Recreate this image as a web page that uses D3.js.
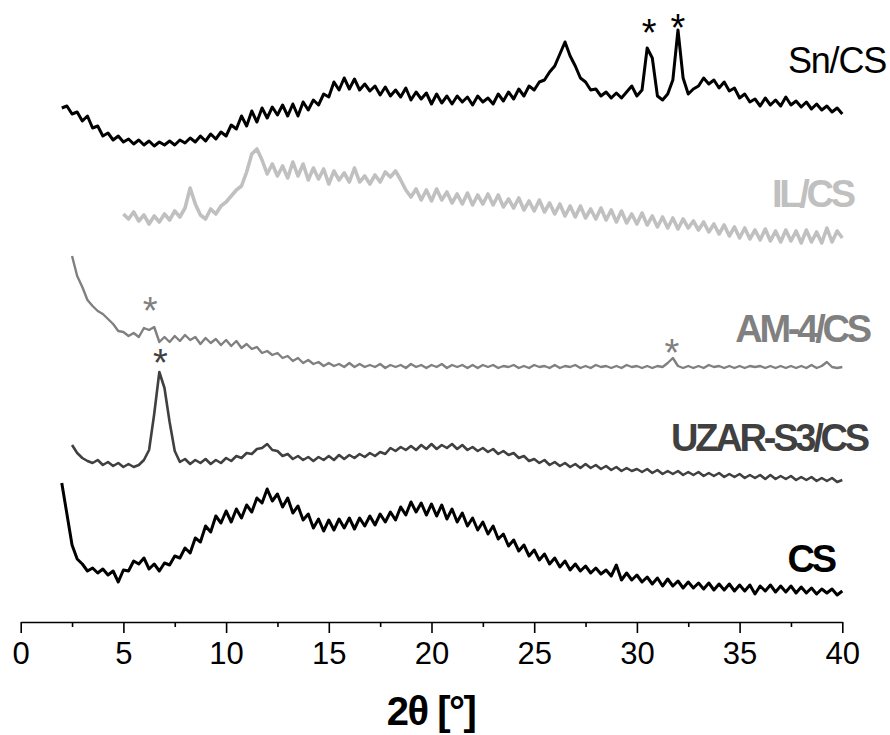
<!DOCTYPE html>
<html>
<head>
<meta charset="utf-8">
<script src="https://cdn.jsdelivr.net/npm/d3@7"></script>
<style>
  body { margin: 0; background: #fff; }
  svg text { font-family: "Liberation Sans", Arial, sans-serif; }
</style>
</head>
<body>
<script>
const step = 0.25;

const csStart = 2.0;
const cs = [
  119, 88, 57, 43, 38, 31, 34, 29, 33, 27, 31, 20, 32, 31, 41, 38,
  44, 33, 38, 31, 39, 37, 46, 44, 54, 49, 64, 60, 76, 70, 86, 79,
  91, 80, 93, 84, 97, 90, 104, 99, 113, 101, 108, 95, 104, 89, 96, 82,
  88, 74, 83, 71, 82, 72, 83, 74, 84, 73, 84, 76, 86, 77, 88, 80,
  90, 82, 95, 87, 100, 90, 99, 87, 98, 86, 97, 83, 93, 80, 89, 76,
  84, 72, 80, 68, 76, 63, 68, 56, 62, 51, 57, 46, 52, 42, 48, 38,
  44, 35, 41, 32, 38, 31, 36, 29, 34, 28, 32, 26, 37, 22, 29, 22,
  27, 20, 25, 18, 24, 16, 23, 16, 21, 14, 20, 14, 19, 13, 19, 12,
  18, 12, 18, 11, 17, 11, 17, 8, 16, 11, 17, 10, 16, 10, 16, 9,
  15, 9, 14, 8, 13, 9, 13, 7, 11
];

const uzarStart = 2.5;
const uzar = [
  47, 39, 34, 31, 29, 32, 27, 30, 26, 29, 25, 28, 25, 27, 32, 42,
  78, 120, 104, 70, 41, 30, 33, 28, 32, 29, 33, 28, 32, 29, 34, 31,
  36, 34, 39, 38, 43, 44, 48, 42, 41, 36, 38, 33, 36, 32, 35, 31,
  35, 32, 36, 32, 37, 33, 37, 34, 38, 35, 39, 36, 40, 38, 44, 41,
  45, 42, 46, 42, 47, 43, 48, 43, 47, 44, 48, 43, 47, 42, 45, 41,
  44, 40, 43, 38, 41, 37, 39, 34, 36, 31, 33, 29, 32, 27, 30, 26,
  29, 25, 28, 24, 28, 24, 27, 23, 26, 22, 25, 21, 24, 21, 23, 20,
  23, 19, 22, 18, 21, 18, 21, 17, 20, 17, 20, 16, 19, 16, 19, 15,
  18, 15, 18, 14, 17, 14, 17, 13, 17, 13, 16, 13, 16, 12, 15, 12,
  15, 11, 14, 11, 14, 10, 12
];

const am4Start = 2.5;
const am4 = [
  126, 106, 95, 82, 76, 71, 68, 63, 58, 51, 50, 46, 49, 45, 54, 52,
  55, 40, 45, 40, 46, 41, 47, 42, 45, 38, 44, 39, 43, 37, 42, 36,
  41, 34, 38, 33, 35, 29, 31, 27, 29, 24, 26, 21, 24, 19, 22, 18,
  20, 16, 19, 16, 18, 15, 19, 15, 18, 15, 17, 15, 18, 14, 17, 15,
  17, 14, 18, 15, 17, 14, 17, 15, 18, 14, 17, 15, 17, 14, 17, 14,
  17, 15, 17, 14, 16, 15, 17, 14, 16, 14, 17, 15, 16, 14, 17, 14,
  16, 15, 17, 14, 16, 14, 17, 15, 16, 14, 16, 14, 17, 15, 16, 14,
  16, 14, 16, 15, 19, 24, 16, 14, 16, 14, 16, 14, 17, 15, 16, 14,
  16, 14, 16, 14, 16, 15, 16, 14, 16, 14, 16, 14, 16, 14, 16, 14,
  17, 14, 16, 20, 15, 14, 15
];

const ilStart = 5.0;
const il = [
  38, 33, 40, 31, 37, 28, 36, 30, 38, 32, 41, 35, 44, 64, 48, 37,
  33, 43, 38, 46, 50, 56, 62, 66, 80, 98, 103, 92, 78, 88, 76, 86,
  74, 90, 76, 88, 72, 84, 73, 83, 68, 81, 72, 79, 70, 84, 70, 76,
  68, 77, 70, 80, 75, 81, 72, 62, 55, 63, 52, 62, 51, 63, 52, 60,
  49, 58, 48, 59, 47, 57, 48, 58, 47, 57, 45, 53, 44, 54, 42, 51,
  41, 52, 40, 49, 38, 48, 36, 46, 35, 46, 34, 43, 33, 44, 32, 42,
  30, 41, 29, 38, 28, 39, 27, 36, 25, 35, 24, 34, 23, 33, 24, 31,
  22, 30, 20, 28, 18, 27, 16, 25, 14, 24, 13, 22, 12, 23, 11, 21,
  10, 22, 11, 21, 9, 22, 10, 20, 9, 24, 10, 21, 14
];

const snStart = 2.0;
const sn = [
  44, 46, 38, 40, 31, 36, 24, 26, 16, 19, 12, 16, 10, 13, 8, 12,
  7, 11, 6, 10, 7, 11, 7, 12, 9, 14, 10, 16, 11, 18, 13, 20,
  16, 27, 23, 36, 26, 41, 30, 44, 34, 45, 37, 47, 36, 48, 36, 50,
  42, 52, 47, 58, 55, 70, 62, 74, 63, 73, 62, 68, 61, 66, 57, 65,
  56, 62, 55, 64, 52, 60, 53, 59, 48, 58, 49, 56, 48, 56, 50, 55,
  47, 56, 50, 54, 48, 58, 51, 60, 53, 63, 56, 66, 62, 70, 72, 80,
  86, 98, 110, 96, 86, 74, 70, 62, 63, 56, 60, 54, 59, 54, 60, 66,
  56, 62, 104, 94, 56, 52, 58, 72, 122, 74, 58, 63, 66, 74, 68, 72,
  64, 70, 61, 64, 54, 58, 50, 53, 46, 54, 47, 52, 46, 55, 47, 51,
  45, 50, 43, 48, 42, 46, 40, 44, 38
];

// vertical stacking offsets (a.u.)
const names = ["CS", "UZAR-S3/CS", "AM-4/CS", "IL/CS", "Sn/CS"];
const offsets = [20, 130, 240, 370, 470];

// reflections marked with an asterisk: sample, 2theta, level (a.u. above its offset)
const markSample = ["Sn/CS", "Sn/CS", "AM-4/CS", "AM-4/CS", "UZAR-S3/CS"];
const markAngle = [30.6, 32.0, 6.3, 31.7, 6.8];
const markLevel = [127, 132, 79, 37, 137];

const xTicks = [0, 5, 10, 15, 20, 25, 30, 35, 40];
const xMinor = [2.5, 7.5, 12.5, 17.5, 22.5, 27.5, 32.5, 37.5];

const width = 890, height = 735;

const svg = d3.select("body").append("svg")
  .attr("width", width)
  .attr("height", height);

const x = d3.scaleLinear().domain([0, 40]).range([20.7, 842.3]);
const y = d3.scaleLinear().domain([0, 620]).range([622, 2]);

const patterns = [
  { name: names[0], start: csStart, values: cs, color: "#000000", lw: 3.0, weight: "bold", labelX: 834, labelY: 572 },
  { name: names[1], start: uzarStart, values: uzar, color: "#404040", lw: 2.6, weight: "bold", labelX: 867, labelY: 451 },
  { name: names[2], start: am4Start, values: am4, color: "#808080", lw: 2.4, weight: "bold", labelX: 869, labelY: 342 },
  { name: names[3], start: ilStart, values: il, color: "#c0c0c0", lw: 3.6, weight: "bold", labelX: 853, labelY: 207 },
  { name: names[4], start: snStart, values: sn, color: "#000000", lw: 3.0, weight: "normal", labelX: 886, labelY: 73 }
];

// draw the upper patterns first so the lower ones sit on top
patterns.slice().reverse().forEach(function(p) {
  const off = offsets[names.indexOf(p.name)];
  const pts = p.values.map((v, i) => [p.start + i * step, v]);
  const line = d3.line()
    .x(d => x(d[0]))
    .y(d => y(off + d[1]));
  svg.append("path")
    .datum(pts)
    .attr("d", line)
    .attr("fill", "none")
    .attr("stroke", p.color)
    .attr("stroke-width", p.lw)
    .attr("stroke-linejoin", "round");

  svg.append("text")
    .attr("x", p.labelX)
    .attr("y", p.labelY)
    .attr("text-anchor", "end")
    .attr("font-size", p.weight === "bold" ? 38 : 36)
    .attr("font-weight", p.weight)
    .attr("letter-spacing", p.weight === "bold" ? -3.2 : -1.2)
    .attr("fill", p.color)
    .text(p.name);
});

// asterisks
markAngle.forEach(function(a, i) {
  const k = names.indexOf(markSample[i]);
  svg.append("text")
    .attr("x", x(a))
    .attr("y", y(offsets[k] + markLevel[i]) + 21)
    .attr("text-anchor", "middle")
    .attr("font-size", 38)
    .attr("fill", patterns[k].color)
    .text("*");
});

// x axis
const axisY = 622;
const gx = svg.append("g").attr("transform", `translate(0,${axisY})`);
gx.call(d3.axisBottom(x).tickValues(xMinor).tickSize(5).tickFormat(""))
  .call(g => g.select(".domain").remove());
gx.append("g").call(d3.axisBottom(x).tickValues(xTicks).tickSize(11).tickSizeOuter(0).tickPadding(9));
gx.selectAll("line").attr("stroke", "#000").attr("stroke-width", 1.6);
gx.selectAll(".domain").attr("stroke", "#000").attr("stroke-width", 1.6);
gx.selectAll("text")
  .attr("font-size", 31)
  .attr("fill", "#000")
  .style("font-family", '"Liberation Sans", Arial, sans-serif');

svg.append("text")
  .attr("x", 431)
  .attr("y", 725)
  .attr("text-anchor", "middle")
  .attr("font-size", 40)
  .attr("font-weight", "bold")
  .attr("letter-spacing", -1.5)
  .text("2\u03B8 [\u00B0]");
</script>
</body>
</html>
